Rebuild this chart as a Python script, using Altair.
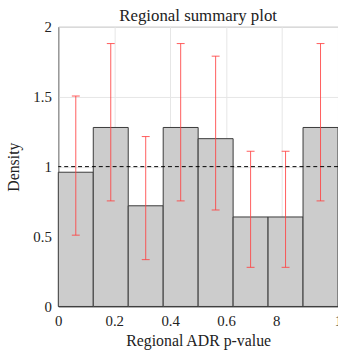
import altair as alt
import pandas as pd

bin_start = [0.0, 0.125, 0.25, 0.375, 0.5, 0.625, 0.75, 0.875]
bin_end = [0.125, 0.25, 0.375, 0.5, 0.625, 0.75, 0.875, 1.0]
density = [0.96, 1.28, 0.72, 1.28, 1.20, 0.64, 0.64, 1.28]
ci_low = [0.51, 0.755, 0.335, 0.755, 0.69, 0.28, 0.28, 0.755]
ci_high = [1.505, 1.88, 1.215, 1.88, 1.79, 1.11, 1.11, 1.88]
x_ticks = [0, 0.2, 0.4, 0.6, 0.8, 1]
y_ticks = [0, 0.5, 1, 1.5, 2]
ref_level = 1

df = pd.DataFrame({
    "start": bin_start,
    "end": bin_end,
    "density": density,
    "lo": ci_low,
    "hi": ci_high,
})
df["mid"] = (df["start"] + df["end"]) / 2

FONT = "Liberation Serif"

xscale = alt.Scale(domain=[0, 1], nice=False, zero=False)
yscale = alt.Scale(domain=[0, 2], nice=False)

xaxis = alt.Axis(
    values=x_ticks,
    format="~g",
    labelFlush=False,
    title="Regional ADR p-value",
    labelExpr="datum.value == 0.8 ? '8' : datum.label",
    labelOffset={"condition": {"test": "datum.value == 0.8", "value": -6}, "value": 0},
)
yaxis = alt.Axis(values=y_ticks, format="~g", title="Density")

bars = alt.Chart(df).mark_rect(
    fill="#cccccc", stroke="#3a3a3a", strokeWidth=1
).encode(
    x=alt.X("start:Q", scale=xscale, axis=xaxis),
    x2="end:Q",
    y=alt.Y("density:Q", scale=yscale, axis=yaxis),
    y2=alt.datum(0),
)

err = alt.Chart(df).mark_rule(color="#ff4040", opacity=0.85, strokeWidth=1).encode(
    x="mid:Q", y="lo:Q", y2="hi:Q"
)
cap_lo = alt.Chart(df).mark_tick(
    color="#ff4040", opacity=0.85, orient="horizontal", size=8, thickness=1
).encode(x="mid:Q", y="lo:Q")
cap_hi = alt.Chart(df).mark_tick(
    color="#ff4040", opacity=0.85, orient="horizontal", size=8, thickness=1
).encode(x="mid:Q", y="hi:Q")

ref = alt.Chart(pd.DataFrame({"r": [ref_level]})).mark_rule(
    color="black", strokeDash=[4, 3], strokeWidth=1
).encode(y="r:Q")

chart = alt.layer(bars, err, cap_lo, cap_hi, ref).properties(
    width=283,
    height=283,
    title=alt.TitleParams("Regional summary plot", font=FONT, fontSize=17,
                          fontWeight="normal", color="#222222", offset=3,
                          frame="group", dy=8),
    autosize=alt.AutoSizeParams(type="none"),
    padding={"left": 59, "top": 25, "right": 0, "bottom": 48},
).configure_view(
    stroke="#999999", strokeWidth=1
).configure_axis(
    labelFont=FONT, titleFont=FONT, labelFontSize=15, titleFontSize=16,
    labelColor="#222222", titleColor="#222222", titleFontWeight="normal",
    grid=True, gridColor="#e6e6e6", gridWidth=1,
    domainColor="#808080", tickSize=0, labelPadding=7,
).configure_axisX(
    titlePadding=4
).configure_axisY(
    titlePadding=12
)

chart.save("out.html", embed_options={"renderer": "svg", "actions": False})
